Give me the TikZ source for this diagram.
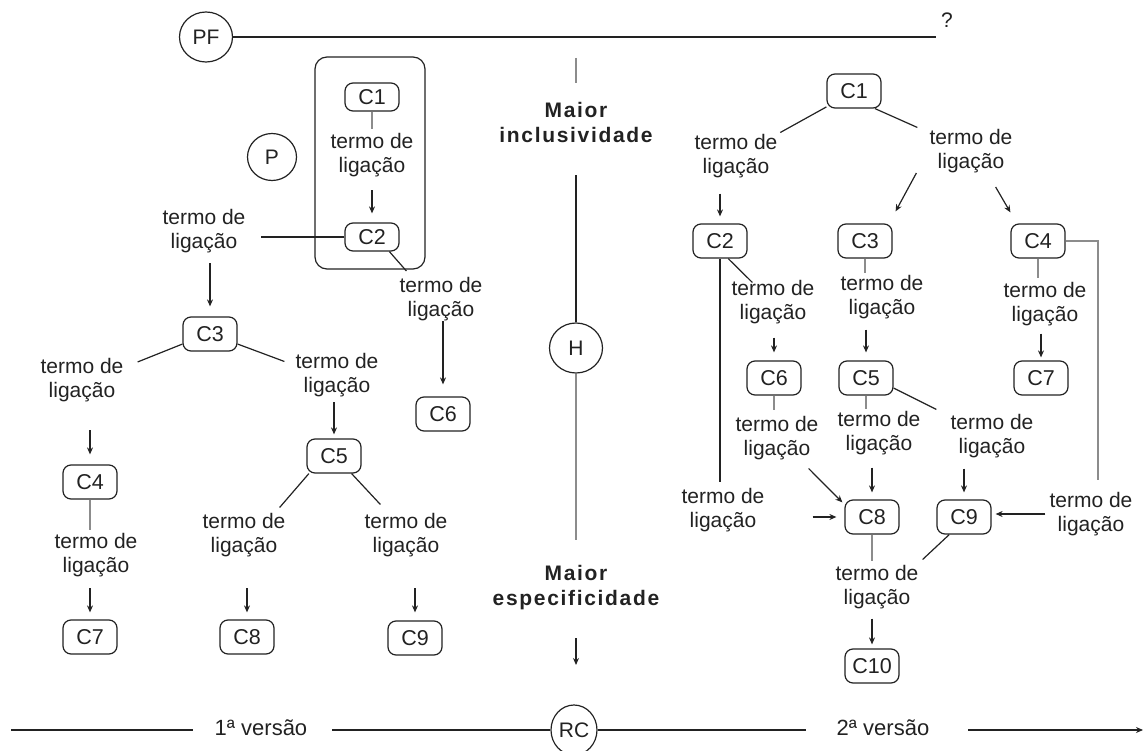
\documentclass[tikz,border=0pt]{standalone}
\usepackage{fontspec}
\setmainfont{Liberation Sans}
\newfontfamily\spacedbold{Liberation Sans}[LetterSpace=8]
\usetikzlibrary{arrows.meta,shapes.geometric}

\definecolor{ink}{HTML}{222222}
\definecolor{lightline}{HTML}{8C8C8C}

\begin{document}
\begin{tikzpicture}[
  x=1pt, y=-1pt,
  concept/.style={draw=ink, line width=1.2pt, rounded corners=8pt,
    minimum width=54pt, minimum height=34pt, inner sep=2pt,
    font=\fontsize{21.5}{24}\selectfont, text=ink},
  flatconcept/.style={concept, minimum height=28pt},
  link/.style={align=center, inner sep=0pt, font=\fontsize{21}{24}\selectfont, text=ink},
  axislabel/.style={align=center, inner sep=0pt, text=ink,
    font=\spacedbold\bfseries\fontsize{21}{25}\selectfont},
  ring/.style={draw=ink, line width=1.2pt, ellipse, inner sep=0pt,
    font=\fontsize{21}{24}\selectfont, text=ink},
  ln/.style={draw=ink, line width=1.2pt},
  lnlight/.style={draw=lightline, line width=1.4pt},
  ar/.style={ln, -{Stealth[length=7pt,width=6pt]}},
]
\useasboundingbox (0,0) rectangle (1144,751);

% ---------- top line ----------
\node[ring, minimum width=53pt, minimum height=50pt] (PF) at (206,37) {PF};
\node[inner sep=0pt, font=\fontsize{21}{24}\selectfont, text=ink] (Q) at (947,20) {?};
\draw[ln, shorten >=5pt] (PF.east) -- (PF.east -| Q.west);

% ---------- first version ----------
\node[ring, minimum width=49pt, minimum height=47pt] (P) at (272,157) {P};
\node[draw=ink, line width=1.2pt, rounded corners=12pt, minimum width=110pt,
      minimum height=212pt, inner sep=0pt] (frame) at (370,163) {};

\node[flatconcept] (aC1) at (372,97) {C1};
\node[flatconcept] (aC2) at (372,237) {C2};
\node[concept] (aC3) at (210,334) {C3};
\node[concept] (aC4) at (90,482) {C4};
\node[concept] (aC5) at (334,456) {C5};
\node[concept] (aC6) at (443,414) {C6};
\node[concept] (aC7) at (90,637) {C7};
\node[concept] (aC8) at (247,637) {C8};
\node[concept] (aC9) at (415,638) {C9};

\node[link] (aTa) at (372,155) {termo de\\ligação};
\node[link] (aTb) at (204,231) {termo de\\ligação};
\node[link] (aTc) at (441,299) {termo de\\ligação};
\node[link] (aTd) at (82,380) {termo de\\ligação};
\node[link] (aTe) at (337,375) {termo de\\ligação};
\node[link] (aTf) at (96,555) {termo de\\ligação};
\node[link] (aTg) at (244,535) {termo de\\ligação};
\node[link] (aTh) at (406,535) {termo de\\ligação};

\draw[lnlight, shorten >=4pt] (aC1.south) -- (aTa.north);
\draw[ar, shorten <=13pt, shorten >=9pt] (aTa.south) -- (aC2.north);
\draw[ln, shorten >=15pt] (aC2.west) -- (aC2.west -| aTb.east);
\draw[ar, shorten <=10pt, shorten >=10pt] (aTb.south -| aC3.north) -- (aC3.north);
\draw[ln] (aC2.-40) -- ([xshift=7pt,yshift=6pt]aTc.north west);
\draw[ar, shorten >=12pt] (aTc.south -| aC6.north) -- (aC6.north);
\draw[ln] (aC3.200) -- ([xshift=14pt,yshift=-4pt]aTd.north east);
\draw[ln] (aC3.-20) -- ([xshift=-11pt,yshift=-8.5pt]aTe.north west);
\draw[ar, shorten <=5pt, shorten >=4pt] (aTe.south -| aC5.north) -- (aC5.north);
\draw[ar, shorten <=28pt, shorten >=10pt] (aTd.south -| aC4.north) -- (aC4.north);
\draw[lnlight, shorten >=3pt] (aC4.south) -- (aC4.south |- aTf.north);
\draw[ar, shorten <=11pt, shorten >=7pt] (aTf.south -| aC7.north) -- (aC7.north);
\draw[ln] (aC5.215) -- ([xshift=-6pt,yshift=5.5pt]aTg.north east);
\draw[ln] (aC5.-45) -- ([xshift=16pt,yshift=8.5pt]aTh.north west);
\draw[ar, shorten <=31pt, shorten >=7pt] (aTg.south -| aC8.north) -- (aC8.north);
\draw[ar, shorten <=31pt, shorten >=8pt] (aTh.south -| aC9.north) -- (aC9.north);

% ---------- middle axis ----------
\coordinate (axtop) at (576,58);
\coordinate (axend) at (576,665);
\node[axislabel] (Mi) at (576,122) {Maior\\inclusividade};
\node[ring, minimum width=53pt, minimum height=50pt] (H) at (576,348) {H};
\node[axislabel] (Ms) at (576,588) {Maior\\especificidade};
\draw[lnlight, shorten >=19pt] (axtop) -- (Mi.north);
\draw[ln, shorten <=33pt] (Mi.south) -- (H.north);
\draw[lnlight, shorten >=26pt] (H.south) -- (Ms.north);
\draw[ar, shorten <=28pt] (Ms.south) -- (axend);

% ---------- second version ----------
\node[concept] (bC1) at (854,91) {C1};
\node[concept] (bC2) at (720,241) {C2};
\node[concept] (bC3) at (865,241) {C3};
\node[concept] (bC4) at (1038,241) {C4};
\node[concept] (bC6) at (774,378) {C6};
\node[concept] (bC5) at (866,378) {C5};
\node[concept] (bC7) at (1041,378) {C7};
\node[concept] (bC8) at (872,517) {C8};
\node[concept] (bC9) at (964,517) {C9};
\node[concept] (bC10) at (872,666) {C10};

\node[link] (bTa) at (736,156) {termo de\\ligação};
\node[link] (bTb) at (971,151) {termo de\\ligação};
\node[link] (bTc) at (773,302) {termo de\\ligação};
\node[link] (bTd) at (882,297) {termo de\\ligação};
\node[link] (bTe) at (1045,304) {termo de\\ligação};
\node[link] (bTf) at (777,438) {termo de\\ligação};
\node[link] (bTg) at (879,433) {termo de\\ligação};
\node[link] (bTh) at (992,436) {termo de\\ligação};
\node[link] (bTi) at (723,510) {termo de\\ligação};
\node[link] (bTj) at (1091,514) {termo de\\ligação};
\node[link] (bTk) at (877,587) {termo de\\ligação};

\draw[ln, shorten >=3pt] (bC1.210) -- (bTa.north east);
\draw[ln] (bC1.-40) -- ([xshift=-12pt,yshift=1.5pt]bTb.north west);
\draw[ar, shorten <=15.5pt, shorten >=7pt] (bTa.south -| bC2.north) -- (bC2.north);
\draw[ar] ([xshift=-13pt]bTb.south west) -- ([xshift=3pt,yshift=12pt]bC3.north east);
\draw[ar] ([xshift=-17pt,yshift=-14pt]bTb.south east) -- ([yshift=11pt]bC4.north west);
\draw[lnlight] (bC4.east) -| ([xshift=7pt,yshift=12pt]bTj.north);
\draw[ar, shorten <=4pt, shorten >=4pt] (bTj.west) -- (bTj.west -| bC9.east);
\draw[ln, shorten >=6pt] (bC2.south) -- (bC2.south |- bTi.north);
\draw[ln] (bC2.-65) -- ([xshift=21pt,yshift=-2.5pt]bTc.north west);
\draw[ar, shorten <=13.5pt, shorten >=8pt] (bTc.south -| bC6.north) -- (bC6.north);
\draw[lnlight, shorten >=2pt] (bC3.south) -- (bC3.south |- bTd.north);
\draw[ar, shorten <=10.5pt, shorten >=8pt] (bTd.south -| bC5.north) -- (bC5.north);
\draw[lnlight, shorten >=4pt] (bC4.south) -- (bC4.south |- bTe.north);
\draw[ar, shorten <=7.5pt, shorten >=3pt] (bTe.south -| bC7.north) -- (bC7.north);
\draw[lnlight, shorten >=6pt] (bC6.south) -- (bC6.south |- bTf.north);
\draw[ar] ([xshift=-10pt,yshift=-8.5pt]bTf.south east) -- ([xshift=-2pt,yshift=-3pt]bC8.north west);
\draw[lnlight, shorten >=2pt] (bC5.south) -- (bC5.south |- bTg.north);
\draw[ln] (bC5.-20) -- ([xshift=-14pt,yshift=4.5pt]bTh.north west);
\draw[ar, shorten <=12.5pt, shorten >=7pt] (bTg.south -| bC8.north) -- (bC8.north);
\draw[ar, shorten <=10.5pt, shorten >=7pt] (bTh.south -| bC9.north) -- (bC9.north);
\draw[ar, shorten <=48pt, shorten >=8pt] (bTi.east |- bC8.west) -- (bC8.west);
\draw[lnlight, shorten >=3.5pt] (bC8.south) -- (bC8.south |- bTk.north);
\draw[ln] (bC9.230) -- ([xshift=4pt,yshift=5.5pt]bTk.north east);
\draw[ar, shorten <=9.5pt, shorten >=4pt] (bTk.south -| bC10.north) -- (bC10.north);

% ---------- bottom time line ----------
\coordinate (tstart) at (11,730);
\coordinate (tend) at (1143,730);
\node[inner sep=0pt, font=\fontsize{22}{26}\selectfont, text=ink] (V1) at (261,728) {1ª versão};
\node[ring, minimum width=46pt, minimum height=50pt, font=\fontsize{21}{24}\selectfont] (RC) at (574,730) {RC};
\node[inner sep=0pt, font=\fontsize{22}{26}\selectfont, text=ink] (V2) at (883,728) {2ª versão};
\draw[ln, shorten >=22pt] (tstart) -- (tstart -| V1.west);
\draw[ln, shorten <=25pt] (V1.east |- RC) -- (RC.west);
\draw[ln, shorten >=31pt] (RC.east) -- (RC.east -| V2.west);
\draw[ar, shorten <=39pt] (V2.east |- RC) -- (tend);
\end{tikzpicture}
\end{document}
